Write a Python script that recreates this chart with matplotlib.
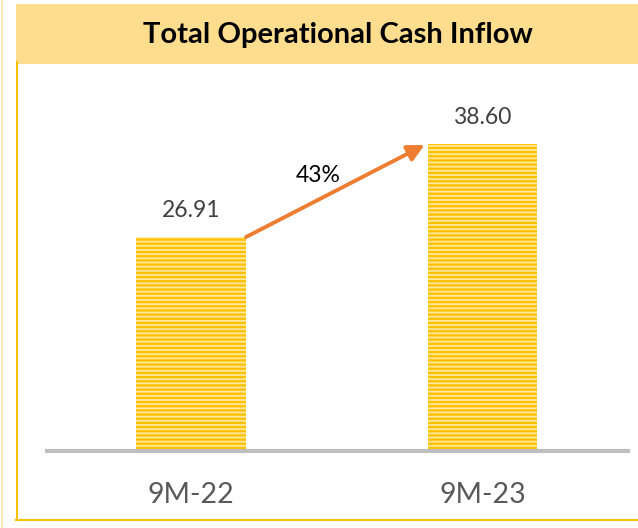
import matplotlib.pyplot as plt
from matplotlib.patches import Rectangle
from matplotlib.lines import Line2D

# data
periods = ['9M-22', '9M-23']
inflow = [26.91, 38.60]
growth_label = '43%'
title = 'Total Operational Cash Inflow'

W, H = 638, 528
plt.rcParams['font.family'] = ['Lato', 'DejaVu Sans']
plt.rcParams['hatch.linewidth'] = 1.7

fig = plt.figure(figsize=(W / 100, H / 100), dpi=100)

# banner and frame (figure pixels -> fractions)
def fx(x):
    return x / W

def fy(y):
    return 1 - y / H

fig.patches.append(Rectangle((fx(16), fy(64)), 1 - fx(16), fy(4) - fy(64),
                             transform=fig.transFigure, facecolor='#FFDD8F',
                             edgecolor='none', zorder=0))
fig.lines.append(Line2D([fx(16.5), fx(16.5)], [fy(62), fy(520)], transform=fig.transFigure,
                        color='#FFC000', lw=1.5))
fig.lines.append(Line2D([fx(16), 1], [fy(520), fy(520)], transform=fig.transFigure,
                        color='#FFC000', lw=1.5))
fig.lines.append(Line2D([fx(1.5), fx(1.5)], [0, 1], transform=fig.transFigure,
                        color='#FFE7A6', lw=1.2))
fig.text(fx(338), fy(35), title, ha='center', va='center', fontsize=21,
         fontweight='bold', color='black')

ax = fig.add_axes([fx(47), fy(451), fx(628) - fx(47), fy(64) - fy(451)])
ax.set_facecolor('none')

x = list(range(len(periods)))
width = 0.377
ax.bar(x, inflow, width=width, color='#FFE8A0', edgecolor='#FFC000',
       hatch='----', linewidth=0, zorder=2)

for xi, v in zip(x, inflow):
    ax.text(xi, v + 3.4, f'{v:.2f}', ha='center', va='center', fontsize=16.5,
            color='#404040')

ax.annotate('', xy=(x[1] - width / 2 - 0.01, inflow[1] - 0.1),
            xytext=(x[0] + width / 2, inflow[0]),
            arrowprops=dict(arrowstyle='-|>,head_length=1.0,head_width=0.5',
                            color='#ED7D31', lw=2.8, shrinkA=0, shrinkB=0),
            zorder=3)
ax.text(0.435, 34.6, growth_label, ha='center', va='center', fontsize=16.5, color='black')

ax.set_xlim(-0.494, 1.499)
ax.set_ylim(0, (451 - 64) / 7.95)
ax.set_xticks(x)
ax.set_xticklabels(periods, fontsize=20.5, color='#595959')
ax.tick_params(axis='x', length=0, pad=22)
ax.set_yticks([])
for s in ['left', 'right', 'top']:
    ax.spines[s].set_visible(False)
ax.spines['bottom'].set_color('#BFBFBF')
ax.spines['bottom'].set_linewidth(3)

fig.savefig('out.png', dpi=100)
